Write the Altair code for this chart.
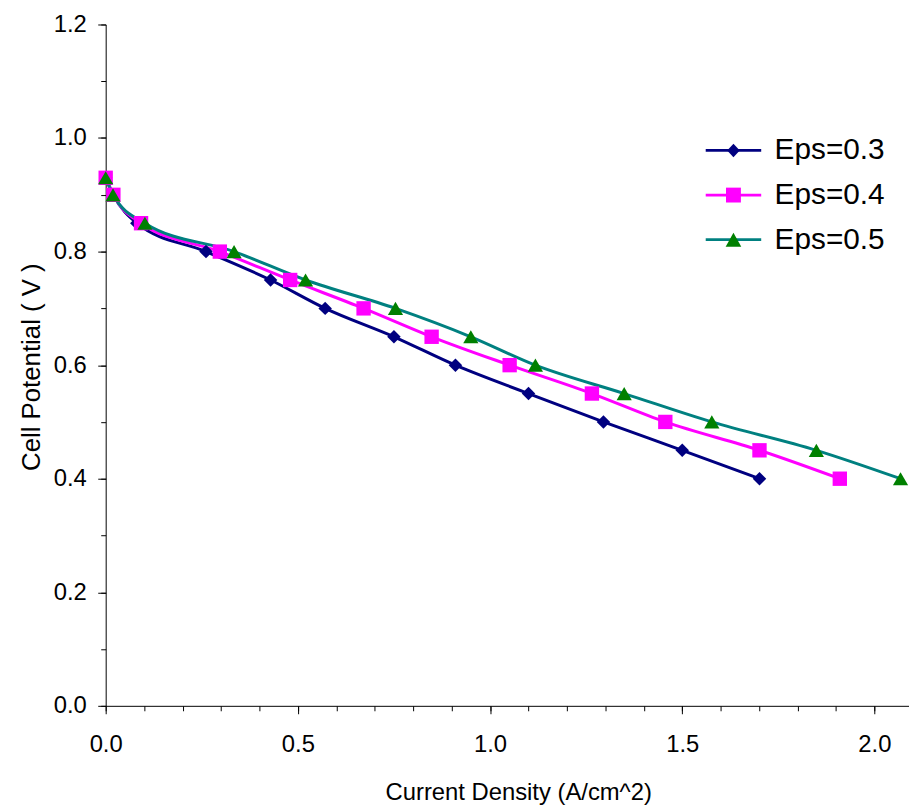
import altair as alt
import pandas as pd

series_names = ["Eps=0.3", "Eps=0.4", "Eps=0.5"]
potential = [0.93, 0.90, 0.85, 0.80, 0.75, 0.70, 0.65, 0.60, 0.55, 0.50, 0.45, 0.40]
current_eps03 = [0.0, 0.02, 0.081, 0.261, 0.429, 0.571, 0.750, 0.910, 1.100, 1.295, 1.500, 1.701]
current_eps04 = [0.0, 0.02, 0.092, 0.297, 0.480, 0.671, 0.848, 1.051, 1.265, 1.456, 1.701, 1.910]
current_eps05 = [0.0, 0.019, 0.102, 0.334, 0.520, 0.754, 0.950, 1.118, 1.349, 1.577, 1.849, 2.068]

line_colors = ["#000080", "#FF00FF", "#008080"]
marker_colors = ["#000080", "#FF00FF", "#008000"]
marker_shapes = ["diamond", "square", "triangle-up"]
marker_sizes = [185, 235, 280]

x_major = [0.0, 0.5, 1.0, 1.5, 2.0]
x_minor = [0.0, 0.1, 0.2, 0.3, 0.4, 0.5, 0.6, 0.7, 0.8, 0.9, 1.0,
           1.1, 1.2, 1.3, 1.4, 1.5, 1.6, 1.7, 1.8, 1.9, 2.0]
y_major = [0.0, 0.2, 0.4, 0.6, 0.8, 1.0, 1.2]
y_minor = [0.0, 0.1, 0.2, 0.3, 0.4, 0.5, 0.6, 0.7, 0.8, 0.9, 1.0, 1.1, 1.2]

# legend symbol paths (unit: r = sqrt(symbolSize)/2)
leg_line = "M-3.73,-0.18H3.73V0.18H-3.73Z"
leg_markers = [
    "M0,-0.9L0.85,0L0,0.9L-0.85,0Z",
    "M-1,-1H1V1H-1Z",
    "M0,-0.95L1.05,0.95L-1.05,0.95Z",
]

rows = []
for name, xs in zip(series_names, [current_eps03, current_eps04, current_eps05]):
    for xv, yv in zip(xs, potential):
        rows.append({"series": name, "legA": name, "legB": name,
                     "current": xv, "potential": yv})
df = pd.DataFrame(rows)

FONT = "Liberation Sans"
W, H = 810, 687
XMAX = 2.09

xs = alt.Scale(domain=[0, XMAX], nice=False, zero=False)
ys = alt.Scale(domain=[0, 1.2], nice=False)

base = alt.Chart(df)

x_main_axis = alt.Axis(values=x_major, format=".1f", orient="bottom", tickSize=8,
                       labelPadding=19, labelFontSize=24, labelFont=FONT, labelColor="black",
                       labelFlush=False, labelOverlap=False,
                       title="Current Density (A/cm^2)", titleFont=FONT, titleFontSize=24,
                       titleFontWeight="normal", titleColor="black", titleX=416,
                       titleY=94.5, titleBaseline="alphabetic", titleAlign="center",
                       grid=False, domainColor="black", tickColor="black",
                       domainWidth=1, tickWidth=1)
y_main_axis = alt.Axis(values=y_major, format=".1f", orient="left", tickSize=8,
                       labelPadding=11.5, labelFontSize=24, labelFont=FONT, labelColor="black",
                       labelFlush=False, labelOverlap=False,
                       title="Cell Potential ( V )", titleFont=FONT, titleFontSize=26,
                       titleFontWeight="normal", titleColor="black", titleX=-67,
                       titleY=345, titleAngle=270, titleBaseline="alphabetic",
                       titleAlign="center", grid=False, domainColor="black",
                       tickColor="black", domainWidth=1, tickWidth=1)
x_minor_axis = alt.Axis(values=x_minor, orient="bottom", tickSize=5, labels=False,
                        domain=False, title=None, grid=False, tickColor="black", tickWidth=1)
y_minor_axis = alt.Axis(values=y_minor, orient="left", tickSize=5, labels=False,
                        domain=False, title=None, grid=False, tickColor="black", tickWidth=1)

lines = base.mark_line(interpolate="monotone", strokeWidth=3).encode(
    x=alt.X("current:Q", scale=xs, axis=x_main_axis),
    y=alt.Y("potential:Q", scale=ys, axis=y_main_axis),
    stroke=alt.Stroke("series:N", scale=alt.Scale(domain=series_names, range=line_colors),
                      legend=None),
)

points = base.mark_point(filled=True, opacity=1, strokeWidth=0).encode(
    x=alt.X("current:Q", scale=xs, axis=None),
    y=alt.Y("potential:Q", scale=ys, axis=None),
    fill=alt.Fill("series:N", scale=alt.Scale(domain=series_names, range=marker_colors),
                  legend=None),
    shape=alt.Shape("series:N", scale=alt.Scale(domain=series_names, range=marker_shapes),
                    legend=None),
    size=alt.Size("series:N", scale=alt.Scale(domain=series_names, range=marker_sizes),
                  legend=None),
)


def make_legend(label_color):
    return alt.Legend(title=None, orient="none", legendX=618, legendY=112,
                      labelFont=FONT, labelFontSize=30, labelColor=label_color,
                      labelOffset=26.5, rowPadding=15, symbolSize=225,
                      symbolStrokeWidth=0, symbolOpacity=1, padding=0,
                      labelLimit=400)


legA = base.mark_point(filled=True, opacity=0).encode(
    x=alt.X("current:Q", scale=xs, axis=x_minor_axis),
    y=alt.Y("potential:Q", scale=ys, axis=y_minor_axis),
    shape=alt.Shape("legA:N", scale=alt.Scale(range=[leg_line, leg_line, leg_line]),
                    legend=make_legend("black")),
    fill=alt.Fill("legA:N", scale=alt.Scale(range=line_colors),
                  legend=make_legend("black")),
)

legB = base.mark_point(filled=True, opacity=0).encode(
    x=alt.X("current:Q", scale=xs, axis=None),
    y=alt.Y("potential:Q", scale=ys, axis=None),
    shape=alt.Shape("legB:N", scale=alt.Scale(range=leg_markers),
                    legend=make_legend("transparent")),
    fill=alt.Fill("legB:N", scale=alt.Scale(range=marker_colors),
                  legend=make_legend("transparent")),
)

chart = alt.layer(lines, points, legA, legB).resolve_scale(
    fill="independent", shape="independent"
).resolve_axis(
    x="independent", y="independent"
).properties(
    width=W, height=H,
    autosize=alt.AutoSizeParams(type="none"),
    padding={"left": 98.5, "top": 13.3, "right": 0, "bottom": 99.5},
    background="white",
).configure_view(stroke=None)

chart.save("out.html", embed_options={"renderer": "svg", "actions": False})
